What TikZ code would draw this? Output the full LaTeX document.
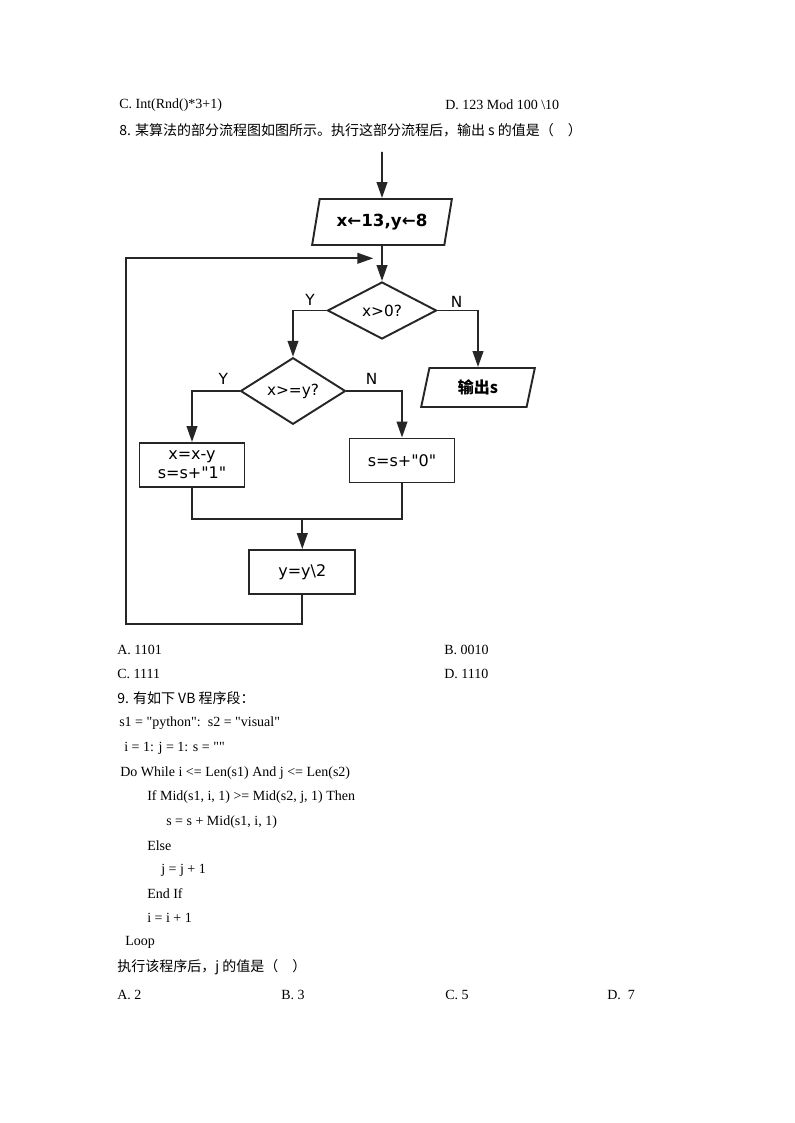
\documentclass[tikz,border=0pt]{standalone}
\usepackage{fontspec}
\setmainfont{Liberation Serif}
\newfontfamily\ser{Liberation Serif}
\newfontfamily\cjk{Noto Sans CJK SC}
\newfontfamily\flow{DejaVu Sans}
\usetikzlibrary{shapes.geometric,arrows.meta}
\begin{document}
\begin{tikzpicture}[x=0.75pt,y=-0.75pt,
  txt/.style={anchor=west,inner sep=0,font=\ser\fontsize{10.5}{12}\selectfont},
  ctxt/.style={anchor=west,inner sep=0,font=\cjk\fontsize{10.5}{12}\selectfont},
  ln/.style={draw=black!85,line width=1.45pt},
  arr/.style={ln,-{Triangle[length=12pt,width=8pt]}},
  box/.style={ln,rectangle,inner sep=0,minimum width=78.75pt,minimum height=33pt,align=center,font=\flow\fontsize{12}{15}\selectfont},
  dia/.style={ln,diamond,inner sep=0,font=\flow\fontsize{11.5}{13}\selectfont},
  para/.style={ln,trapezium,trapezium stretches=true,inner sep=0},
  lab/.style={inner sep=0,font=\flow\fontsize{11.5}{13}\selectfont}]
\useasboundingbox[fill=white] (0,0) rectangle (794,1123);

% question text
\node[txt] (t1) at (119,105) {C. Int(Rnd()*3+1)};
\node[txt] (t2) at (445,105) {D. 123 Mod 100 \textbackslash10};
\node[ctxt] (q8) at (119,130) {8. 某算法的部分流程图如图所示。执行这部分流程后，输出 s 的值是（　）};

% flowchart
\coordinate (start) at (382,152);
\node[para,trapezium left angle=71,trapezium right angle=109,minimum width=105pt,minimum height=34.5pt,font=\flow\bfseries\fontsize{12.5}{15}\selectfont] (p1) at (382,222) {x←13,y←8};
\node[dia,minimum width=81.75pt,minimum height=42.75pt] (d1) at (382,310.5) {x>0?};
\node[dia,minimum width=78.75pt,minimum height=46.5pt] (d2) at (293,391) {x>=y?};
\node[para,trapezium left angle=77.5,trapezium right angle=102.5,minimum width=85.5pt,minimum height=29.25pt,font=\cjk\bfseries\fontsize{12}{14}\selectfont] (out) at (478,387.5) {输出s};
\node[box] (b1) at (192,465) {x=x-y\\[-1pt]s=s+"1"};
\node[box] (b2) at (402,460.5) {s=s+"0"};
\node[box,minimum width=79.5pt] (b3) at (302.3,572) {y=y\textbackslash2};
\coordinate (merge) at (302.3,519);
\coordinate (loopa) at (125.7,624.3);
\coordinate (loopend) at (373.3,258.3);

\draw[arr] (start) -- (p1.north);
\draw[arr] (p1.south) -- (d1.north);
\draw[arr] (d1.west) -| (d2.north);
\draw[arr] (d1.east) -| (out.north);
\draw[arr] (d2.west) -| (b1.north);
\draw[arr] (d2.east) -| (b2.north);
\draw[ln] (b1.south) |- (merge) -| (b2.south);
\draw[arr] (merge) -- (b3.north);
\draw[arr] (b3.south) |- (loopa) |- (loopend);

\node[lab] (y1) at (310,300) {Y};
\node[lab] (n1) at (456.7,302) {N};
\node[lab] (y2) at (223.3,379) {Y};
\node[lab] (n2) at (371.7,379) {N};

% answers
\node[txt] (a8) at (117,650) {A. 1101};
\node[txt] (b8) at (444,650) {B. 0010};
\node[txt] (c8) at (117,674) {C. 1111};
\node[txt] (d8) at (444,674) {D. 1110};

\node[ctxt] (q9) at (117,698) {9. 有如下\ VB\ 程序段：};
\node[txt] (l1) at (119,723) {s1 = "python":\ \ s2 = "visual"};
\node[txt] (l2) at (124,748) {i = 1: j = 1: s = ""};
\node[txt] (l3) at (120,773) {Do While i <= Len(s1) And j <= Len(s2)};
\node[txt] (l4) at (147,797) {If Mid(s1, i, 1) >= Mid(s2, j, 1) Then};
\node[txt] (l5) at (166,822) {s = s + Mid(s1, i, 1)};
\node[txt] (l6) at (147,846) {Else};
\node[txt] (l7) at (161,870) {j = j + 1};
\node[txt] (l8) at (147,894) {End If};
\node[txt] (l9) at (147,918) {i = i + 1};
\node[txt] (l10) at (125,942) {Loop};
\node[ctxt] (q9b) at (117,967) {执行该程序后，j 的值是（　）};
\node[txt] (a9) at (117,995) {A. 2};
\node[txt] (b9) at (281,995) {B. 3};
\node[txt] (c9) at (445,995) {C. 5};
\node[txt] (d9) at (607,995) {D.\ \ 7};
\end{tikzpicture}
\end{document}
